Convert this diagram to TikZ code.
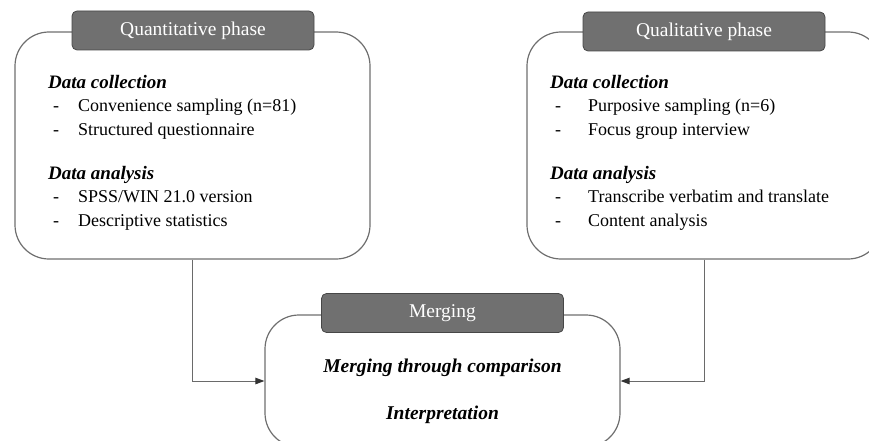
\documentclass[tikz,border=0pt]{standalone}
\usepackage{fontspec}
\setmainfont{Liberation Serif}
\usetikzlibrary{arrows.meta,positioning}
\definecolor{boxgray}{HTML}{6E6E6E}
\definecolor{tabgray}{HTML}{707070}
\definecolor{tabedge}{HTML}{474747}
\definecolor{linegray}{HTML}{6A6A6A}
\newcommand{\itm}[2][25pt]{\hspace*{5pt}\makebox[#1][l]{-}#2}
\newcommand{\hdg}[1]{{\fontsize{19}{23.5}\selectfont\textbf{\textit{#1}}}}

\begin{document}
\begin{tikzpicture}[x=1pt,y=-1pt,
    phase/.style={draw=boxgray,line width=1.2pt,rounded corners=34pt,inner sep=0pt},
    tab/.style={draw=tabedge,fill=tabgray,rounded corners=5pt,line width=0.8pt,
      text=white,minimum width=242pt,minimum height=39pt,inner sep=0pt,
      font=\fontsize{19.5}{19.5}\selectfont},
    body/.style={anchor=north west,align=left,inner sep=0pt,
      font=\fontsize{18}{23.5}\selectfont},
    result/.style={font=\fontsize{19.5}{19.5}\selectfont\bfseries\itshape},
    flow/.style={draw=linegray,line width=1pt,-{Triangle[length=9pt,width=6.5pt,color=black!80]}}]

  \useasboundingbox (0,0) rectangle (869,441);
  \clip (0,0) rectangle (869,441);

  % phase boxes
  \node[phase,minimum width=355pt,minimum height=227pt] (quan)  at (192.5,145.5) {};
  \node[phase,minimum width=355pt,minimum height=227pt] (qual)  at (704.5,145.5) {};
  \node[phase,minimum width=355pt,minimum height=132pt] (merge) at (442.5,381) {};

  % tabs
  \node[tab] (quantab)  at (193,30.5)  {Quantitative phase};
  \node[tab] (qualtab)  at (704,31.5)  {Qualitative phase};
  \node[tab] (mergetab) at (442.5,313) {Merging};

  % quantitative contents
  \node[body] (quancol) at (48,75) {\hdg{Data collection}\\
    \itm{Convenience sampling (n=81)}\\
    \itm{Structured questionnaire}};
  \node[body] (quanana) at (48,166) {\hdg{Data analysis}\\
    \itm{SPSS/WIN 21.0 version}\\
    \itm{Descriptive statistics}};

  % qualitative contents
  \node[body] (qualcol) at (550,75) {\hdg{Data collection}\\
    \itm[33pt]{Purposive sampling (n=6)}\\
    \itm[33pt]{Focus group interview}};
  \node[body] (qualana) at (550,166) {\hdg{Data analysis}\\
    \itm[33pt]{Transcribe verbatim and translate}\\
    \itm[33pt]{Content analysis}};

  % merging contents
  \node[result] (compare) at (442.5,368) {Merging through comparison};
  \node[result] (interp)  at (442.5,415) {Interpretation};

  \draw[flow] (quan.south) |- (merge.west);
  \draw[flow] (qual.south) |- (merge.east);
\end{tikzpicture}
\end{document}
